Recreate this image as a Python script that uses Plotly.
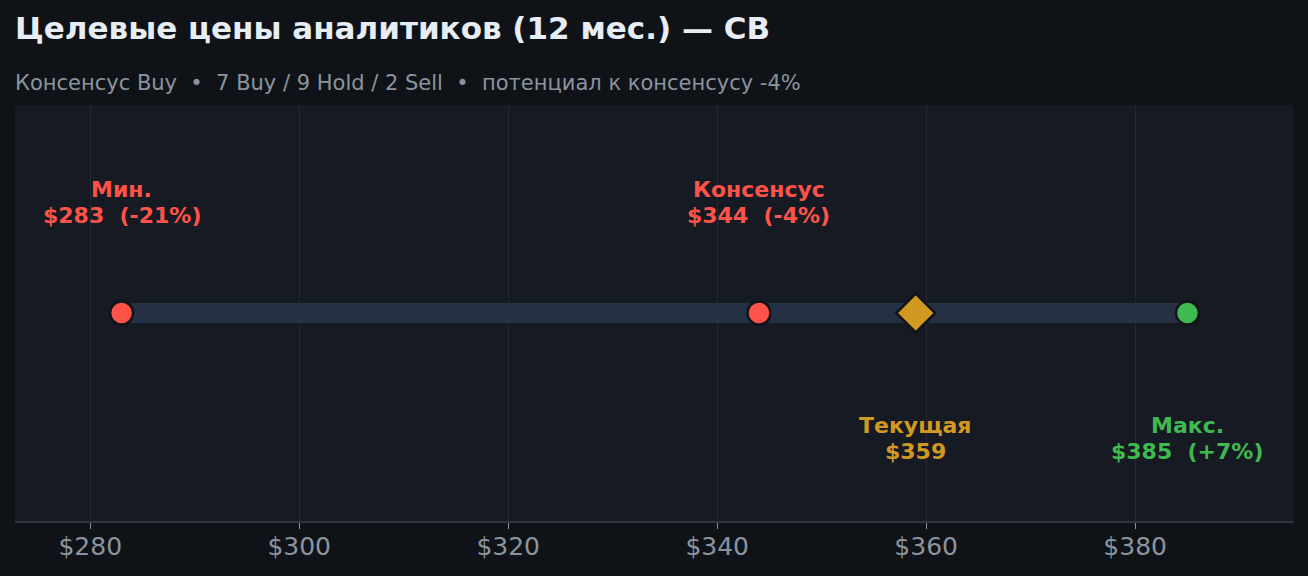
import plotly.graph_objects as go

# ---- data ----
price_min = 283
price_consensus = 344
price_current = 359
price_max = 385
pct_min = -21
pct_consensus = -4
pct_max = 7
tick_vals = [280, 300, 320, 340, 360, 380]
tick_labels = ["$280", "$300", "$320", "$340", "$360", "$380"]

title = "Целевые цены аналитиков (12 мес.) — CB"
subtitle = "Консенсус Buy  •  7 Buy / 9 Hold / 2 Sell  •  потенциал к консенсусу -4%"

RED = "#ff5349"
GREEN = "#3fb950"
GOLD = "#d29922"
BG = "#0f1318"
PLOT_BG = "#161a22"
FONT = "DejaVu Sans"

span = price_max - price_min
xr = [price_min - 0.1 * span, price_max + 0.1 * span]

fig = go.Figure()
# range bar
fig.add_trace(go.Scatter(
    x=[price_min, price_max], y=[0, 0], mode="lines",
    line=dict(color="#243044", width=20), hoverinfo="skip", showlegend=False))
# min / consensus / max markers
fig.add_trace(go.Scatter(
    x=[price_min, price_consensus, price_max], y=[0, 0, 0], mode="markers",
    marker=dict(size=23, color=[RED, RED, GREEN], line=dict(color="#111418", width=2.5)),
    showlegend=False))
# current
fig.add_trace(go.Scatter(
    x=[price_current], y=[0], mode="markers",
    marker=dict(size=30, symbol="diamond", color=GOLD, line=dict(color="#111418", width=2.5)),
    showlegend=False))

def lab(x, y, text, color):
    fig.add_annotation(x=x, y=y, xref="x", yref="y", text=f"<b>{text}</b>", showarrow=False,
                       font=dict(family=FONT, size=22, color=color),
                       align="center", xanchor="center", yanchor="middle")

TOP1, TOP2 = 0.596, 0.471
BOT1, BOT2 = -0.541, -0.666
lab(price_min, TOP1, "Мин.", RED)
lab(price_min, TOP2, f"${price_min}  ({pct_min}%)", RED)
lab(price_consensus, TOP1, "Консенсус", RED)
lab(price_consensus, TOP2, f"${price_consensus}  ({pct_consensus}%)", RED)
lab(price_current, BOT1, "Текущая", GOLD)
lab(price_current, BOT2, f"${price_current}", GOLD)
lab(price_max, BOT1, "Макс.", GREEN)
lab(price_max, BOT2, f"${price_max}  (+{pct_max}%)", GREEN)

fig.add_annotation(x=0, y=1.185, xref="paper", yref="paper", xanchor="left", yanchor="middle",
                   xshift=-2, text=f"<b>{title}</b>", showarrow=False,
                   font=dict(family=FONT, size=31, color="#e6edf3"))
fig.add_annotation(x=0, y=1.053, xref="paper", yref="paper", xanchor="left", yanchor="middle",
                   xshift=-2, text=subtitle, showarrow=False,
                   font=dict(family=FONT, size=21, color="#8b949e"))

fig.update_layout(
    width=1308, height=576,
    margin=dict(l=15, r=14, t=105, b=55),
    paper_bgcolor=BG, plot_bgcolor=PLOT_BG,
    xaxis=dict(range=xr, tickvals=tick_vals, ticktext=tick_labels,
               showgrid=True, gridcolor="#232831", gridwidth=1, zeroline=False,
               showline=True, linecolor="#30363d", linewidth=2,
               ticks="outside", ticklen=6, tickcolor="#8b949e",
               ticklabelstandoff=-4,
               tickfont=dict(family=FONT, size=25, color="#8b949e")),
    yaxis=dict(range=[-1, 1], visible=False, fixedrange=True),
)

fig.write_html("out.html", config={"displayModeBar": False})

# remove default browser page margin so the figure fills the window
with open("out.html", "r", encoding="utf-8") as f:
    html = f.read()
html = html.replace("<head>", "<head><style>html,body{margin:0;padding:0;background:#0f1318;overflow:hidden}</style>", 1)
with open("out.html", "w", encoding="utf-8") as f:
    f.write(html)
